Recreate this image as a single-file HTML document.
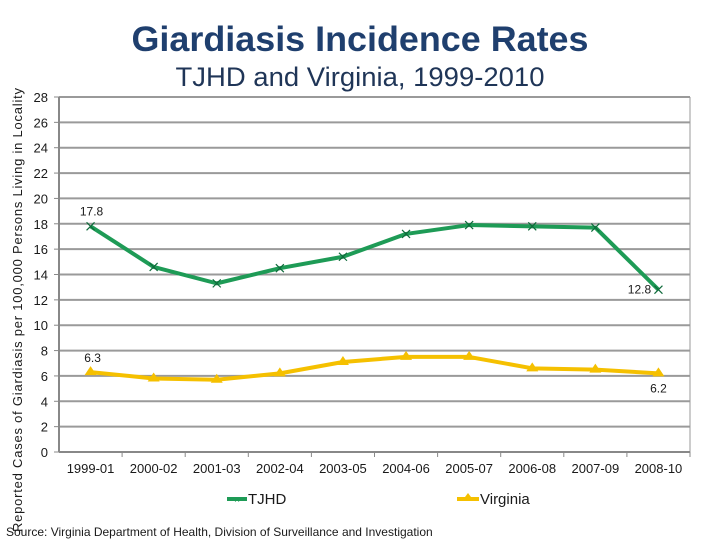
<!DOCTYPE html>
<html><head><meta charset="utf-8"><style>
body{margin:0;background:#fff;width:720px;height:540px;overflow:hidden;font-family:"Liberation Sans",Arial,sans-serif}
</style></head><body>
<svg id="chart" width="720" height="540" xmlns="http://www.w3.org/2000/svg" font-family="Liberation Sans, Arial, sans-serif">
<text x="360" y="51" text-anchor="middle" font-size="35" font-weight="bold" fill="#1f3f6e" textLength="457" lengthAdjust="spacingAndGlyphs">Giardiasis Incidence Rates</text>
<text x="360" y="86" text-anchor="middle" font-size="27" fill="#1f3557" textLength="369" lengthAdjust="spacingAndGlyphs">TJHD and Virginia, 1999-2010</text>
<text transform="translate(22,310) rotate(-90)" text-anchor="middle" font-size="13" fill="#1a1a1a" textLength="444" lengthAdjust="spacing">Reported Cases of Giardiasis per 100,000 Persons Living in Locality</text>
<g id="grid"></g><g id="axes"></g><g id="series"></g>
<g>
<line x1="227" y1="499" x2="247" y2="499" stroke="#1e9b56" stroke-width="4"/>
<text x="237" y="503" text-anchor="middle" font-size="10" fill="#1e9b56">×</text>
<text x="248" y="504" font-size="15" fill="#1a1a1a">TJHD</text>
<line x1="457" y1="499" x2="479" y2="499" stroke="#f5c000" stroke-width="4"/>
<polygon points="468,493 474,501 462,501" fill="#f5c000"/>
<text x="480" y="504" font-size="15" fill="#1a1a1a">Virginia</text>
</g>
<text x="6" y="536" font-size="12" fill="#1a1a1a">Source: Virginia Department of Health, Division of Surveillance and Investigation</text>
</svg>
<script>
const categories=["1999-01","2000-02","2001-03","2002-04","2003-05","2004-06","2005-07","2006-08","2007-09","2008-10"];
const tjhd=[17.8,14.6,13.3,14.5,15.4,17.2,17.9,17.8,17.7,12.8];
const virginia=[6.3,5.8,5.7,6.2,7.1,7.5,7.5,6.6,6.5,6.2];
const yTicks=[0,2,4,6,8,10,12,14,16,18,20,22,24,26,28];
const ns="http://www.w3.org/2000/svg";
const L=59,R=690,T=97,B=452,yMax=28;
const y=v=>B-(v/yMax)*(B-T);
const bw=(R-L)/categories.length;
const x=i=>L+bw*(i+0.5);
function mk(tag,attrs,parent,txt){const e=document.createElementNS(ns,tag);for(const k in attrs)e.setAttribute(k,attrs[k]);if(txt!==undefined)e.textContent=txt;parent.appendChild(e);return e;}
const grid=document.getElementById('grid'),axes=document.getElementById('axes'),ser=document.getElementById('series');
yTicks.forEach(t=>{
 if(t>0){const g=mk('line',{x1:L,x2:R,y1:y(t),y2:y(t),stroke:'#9a9a9a','stroke-width':2},grid);
 
 }
 const lb=mk('text',{x:L-11,y:y(t)+5,'text-anchor':'end','font-size':13,fill:'#1a1a1a'},axes,t);
 
 
 mk('line',{x1:L-5,x2:L,y1:y(t),y2:y(t),stroke:'#888'},axes);
});
mk('line',{x1:R,x2:R,y1:T,y2:B,stroke:'#999','stroke-width':1},axes);
mk('line',{x1:L,x2:L,y1:T,y2:B,stroke:'#888','stroke-width':2},axes);
mk('line',{x1:L,x2:R,y1:B,y2:B,stroke:'#888','stroke-width':2},axes);
categories.forEach((c,i)=>{
 mk('line',{x1:L+bw*(i+1),x2:L+bw*(i+1),y1:B,y2:B+5,stroke:'#888'},axes);
 const lb=mk('text',{x:x(i),y:B+21,'text-anchor':'middle','font-size':13,fill:'#1a1a1a'},axes,c);
 
 
});
function draw(data,color,name,marker){
 const p=mk('polyline',{points:data.map((v,i)=>x(i)+','+y(v)).join(' '),fill:'none',stroke:color,'stroke-width':4,'stroke-linejoin':'round'},ser);
 
 
 data.forEach((v,i)=>{
  let m;
  if(marker==='x'){m=mk('path',{d:`M${x(i)-4},${y(v)-4}L${x(i)+4},${y(v)+4}M${x(i)-4},${y(v)+4}L${x(i)+4},${y(v)-4}`,stroke:'#0e6a3a','stroke-width':1.2},ser);}
  else{m=mk('polygon',{points:`${x(i)},${y(v)-6} ${x(i)+6},${y(v)+3} ${x(i)-6},${y(v)+3}`,fill:color},ser);}
  
  
 });
}
draw(tjhd,'#1e9b56','tjhd','x');
draw(virginia,'#f5c000','virginia','tri');
function lab(v,i,dx,dy,name){const t=mk('text',{x:x(i)+dx,y:y(v)+dy,'text-anchor':'middle','font-size':12,fill:'#1a1a1a'},ser,v.toFixed(1));
 
 }
lab(tjhd[0],0,1,-11,'tjhd-first-label');
lab(tjhd[9],9,-19,4,'tjhd-last-label');
lab(virginia[0],0,2,-10,'virginia-first-label');
lab(virginia[9],9,0,19,'virginia-last-label');
</script>
</body></html>
